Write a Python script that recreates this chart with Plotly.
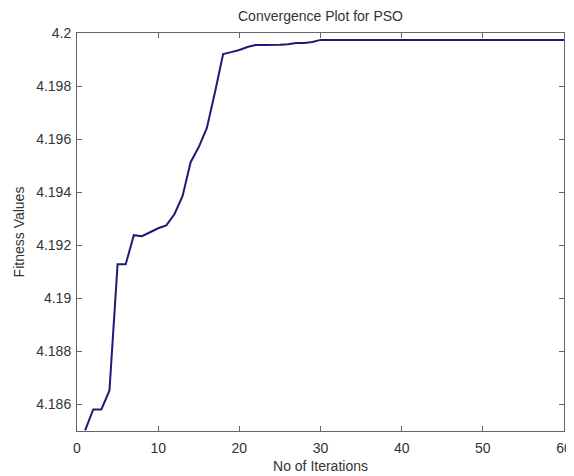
import plotly.graph_objects as go

# Data
iterations = list(range(1, 61))
fitness = [
    4.18502, 4.18581, 4.18581, 4.18653, 4.19128, 4.19128, 4.19238, 4.19234, 4.19249, 4.19264,
    4.19275, 4.19317, 4.19385, 4.19513, 4.19570, 4.19642, 4.19777, 4.19921, 4.19928, 4.19936,
    4.19947, 4.19955, 4.19955, 4.19955, 4.19956, 4.19958, 4.19962, 4.19962, 4.19966, 4.19974,
] + [4.19974] * 30

x_ticks = [0, 10, 20, 30, 40, 50, 60]
y_ticks = [4.186, 4.188, 4.19, 4.192, 4.194, 4.196, 4.198, 4.2]
y_tick_labels = ["4.186", "4.188", "4.19", "4.192", "4.194", "4.196", "4.198", "4.2"]

font_family = "Liberation Sans, Arial, sans-serif"
font_size = 14
text_color = "#333333"
axis_color = "#666666"

# The page body adds an 8px margin, so the figure is sized to fit the 574x476 window
fig_w, fig_h = 566, 468

fig = go.Figure()
fig.add_trace(go.Scatter(
    x=iterations, y=fitness, mode="lines",
    line=dict(color="#1c1c78", width=2),
    showlegend=False,
))

fig.update_layout(
    width=fig_w, height=fig_h,
    paper_bgcolor="white", plot_bgcolor="white",
    margin=dict(l=69, r=10, t=25, b=45, autoexpand=False),
    font=dict(family=font_family, size=font_size, color=text_color),
    title=dict(
        text="Convergence Plot for PSO",
        xref="paper", x=0.5, xanchor="center",
        yref="container", y=1 - 8 / fig_h, yanchor="middle",
        font=dict(family=font_family, size=font_size, color=text_color),
    ),
)

fig.update_xaxes(
    range=[0, 60], tickvals=x_ticks, automargin=False,
    ticks="inside", ticklen=5, tickcolor=axis_color, tickwidth=1,
    ticklabelstandoff=4,
    showline=True, linecolor=axis_color, linewidth=1, mirror="ticks",
    showgrid=False, zeroline=False,
    title=dict(text="No of Iterations", standoff=6,
               font=dict(family=font_family, size=font_size, color=text_color)),
)
fig.update_yaxes(
    range=[4.185, 4.2], tickvals=y_ticks, ticktext=y_tick_labels, automargin=False,
    ticks="inside", ticklen=5, tickcolor=axis_color, tickwidth=1,
    ticklabelstandoff=2,
    showline=True, linecolor=axis_color, linewidth=1, mirror="ticks",
    showgrid=False, zeroline=False,
    title=dict(text="Fitness Values", standoff=8,
               font=dict(family=font_family, size=font_size, color=text_color)),
)

fig.write_html("out.html")
